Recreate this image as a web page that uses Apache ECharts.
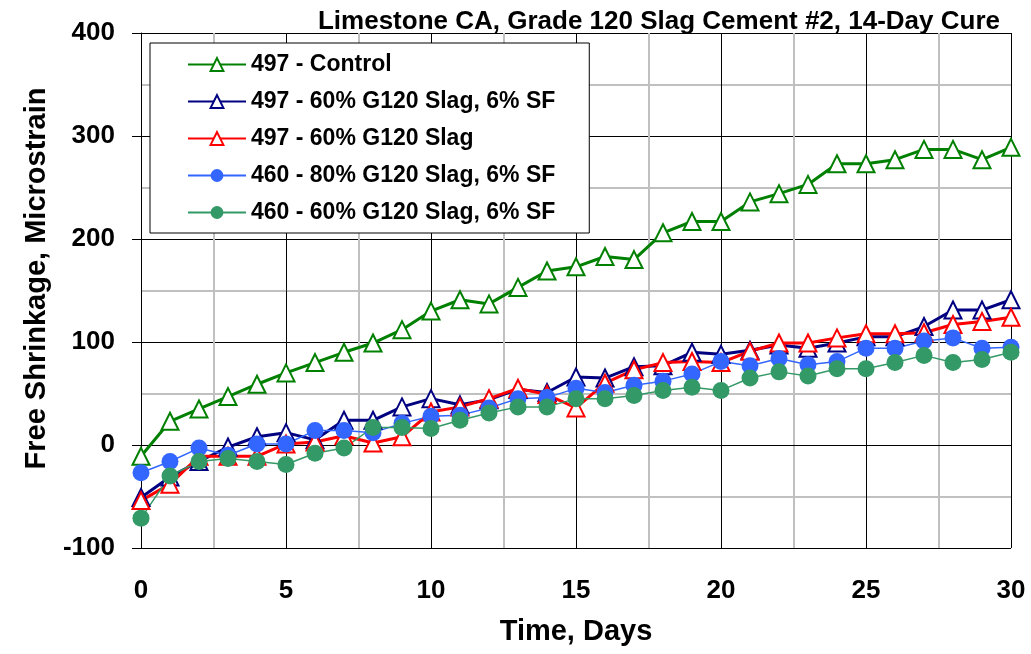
<!DOCTYPE html>
<html>
<head>
<meta charset="utf-8">
<script src="https://cdn.jsdelivr.net/npm/echarts@6/dist/echarts.min.js"></script>
<style>
  html, body { margin: 0; padding: 0; background: #fff; }
  #chart { width: 1031px; height: 654px; }
</style>
</head>
<body>
<div id="chart"></div>
<script>
const days = [0,1,2,3,4,5,6,7,8,9,10,11,12,13,14,15,16,17,18,19,20,21,22,23,24,25,26,27,28,29,30];

const control497 = [-11,23,35,47,59,70,80,90,99,112,130,141,137,153,169,173,183,180,206,217,217,236,244,253,273,273,277,287,287,277,289];
const slagSf497 = [-51,-31,-16,-2,8,12,5,24,24,37,45,39,44,54,51,66,65,76,77,90,88,92,97,94,99,105,105,115,131,131,141];
const slag497 = [-54,-38,-11,-11,-11,1,3,9,2,8,32,37,45,55,49,36,60,73,80,81,80,91,99,99,104,108,108,109,117,120,124];
const slag80Sf460 = [-27,-16,-3,-10,1,1,14,14,12,21,28,29,36,45,46,55,51,58,62,69,81,77,84,78,81,94,94,101,104,94,95];
const slag60Sf460 = [-71,-30,-16,-13,-16,-19,-8,-3,17,17,16,24,31,37,37,45,45,48,53,56,53,65,71,67,74,74,80,87,80,83,90];

const names = [
  '497 - Control',
  '497 - 60% G120 Slag, 6% SF',
  '497 - 60% G120 Slag',
  '460 - 80% G120 Slag, 6% SF',
  '460 - 60% G120 Slag, 6% SF'
];

const font = 'Liberation Sans, Arial, sans-serif';

function pairs(vals) {
  return days.map((d, i) => [d, vals[i]]);
}

function series(name, vals, color, symbol, lineWidth, size) {
  return {
    name: name,
    type: 'line',
    data: pairs(vals),
    symbol: symbol,
    symbolSize: size,
    showAllSymbol: true,
    lineStyle: { color: color, width: lineWidth },
    itemStyle: { color: color, borderWidth: symbol === 'emptyTriangle' ? 1.6 : 0 },
    emphasis: { disabled: true },
    animation: false
  };
}

const chart = echarts.init(document.getElementById('chart'));
chart.setOption({
  backgroundColor: '#fff',
  animation: false,
  title: {
    text: 'Limestone CA, Grade 120 Slag Cement #2, 14-Day Cure',
    right: 26,
    top: 4,
    textStyle: { fontFamily: font, fontWeight: 'bold', fontSize: 26, color: '#000' }
  },
  legend: {
    orient: 'vertical',
    left: 150,
    top: 43,
    padding: [10, 34, 9, 37],
    itemGap: 14,
    itemWidth: 58,
    itemHeight: 16,
    borderColor: '#000',
    borderWidth: 1,
    backgroundColor: '#fff',
    data: names,
    textStyle: { fontFamily: font, fontWeight: 'bold', fontSize: 23, color: '#000' }
  },
  grid: { left: 141, right: 20, top: 33, bottom: 106, containLabel: false },
  xAxis: {
    type: 'value',
    min: 0,
    max: 30,
    interval: 5,
    name: 'Time, Days',
    nameLocation: 'middle',
    nameGap: 69,
    nameTextStyle: { fontFamily: font, fontWeight: 'bold', fontSize: 29, color: '#000' },
    axisLine: { show: true, lineStyle: { color: '#000', width: 1 } },
    axisTick: { show: true, length: 7, lineStyle: { color: '#000' } },
    axisLabel: { fontFamily: font, fontWeight: 'bold', fontSize: 26, color: '#000', margin: 30 },
    splitLine: { show: true, lineStyle: { color: '#000', width: 1 } },
    minorTick: { show: false, splitNumber: 2 },
    minorSplitLine: { show: true, lineStyle: { color: '#c0c0c0', width: 2 } }
  },
  yAxis: {
    type: 'value',
    min: -100,
    max: 400,
    interval: 100,
    name: 'Free Shrinkage, Microstrain',
    nameLocation: 'middle',
    nameGap: 90,
    nameTextStyle: { fontFamily: font, fontWeight: 'bold', fontSize: 29, color: '#000', padding: [0, 0, 0, 24] },
    axisLine: { show: true, lineStyle: { color: '#000', width: 1 } },
    axisTick: { show: true, length: 9, lineStyle: { color: '#000' } },
    axisLabel: { fontFamily: font, fontWeight: 'bold', fontSize: 26, color: '#000', margin: 26 },
    splitLine: { show: true, lineStyle: { color: '#000', width: 1 } },
    minorTick: { show: false, splitNumber: 2 },
    minorSplitLine: { show: true, lineStyle: { color: '#c0c0c0', width: 2 } }
  },
  series: [
    series(names[0], control497, '#008000', 'emptyTriangle', 3, 17),
    series(names[1], slagSf497, '#000080', 'emptyTriangle', 3, 17),
    series(names[2], slag497, '#ff0000', 'emptyTriangle', 3, 17),
    series(names[3], slag80Sf460, '#3366ff', 'circle', 1.5, 17),
    series(names[4], slag60Sf460, '#339966', 'circle', 1.5, 17)
  ]
});
</script>
</body>
</html>
